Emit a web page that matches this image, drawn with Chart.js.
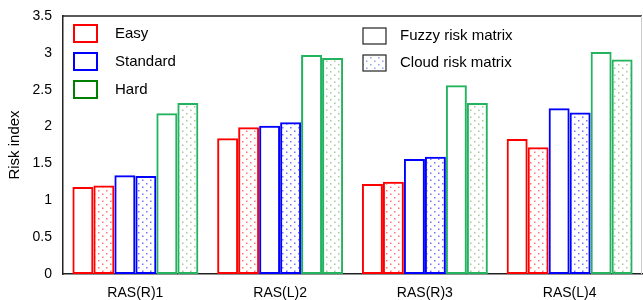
<!DOCTYPE html>
<html>
<head>
<meta charset="utf-8">
<script src="https://cdn.jsdelivr.net/npm/chart.js@4.4.0/dist/chart.umd.min.js"></script>
<style>
  html, body { margin: 0; padding: 0; background: #fff; }
  #wrap { width: 643px; height: 300px; }
</style>
</head>
<body>
<div id="wrap"><canvas id="chart" width="643" height="300"></canvas></div>
<script>
// Data
const categories = ['RAS(R)1', 'RAS(L)2', 'RAS(R)3', 'RAS(L)4'];
const easyFuzzy = [1.18, 1.84, 1.22, 1.83];
const easyCloud = [1.20, 1.99, 1.25, 1.72];
const standardFuzzy = [1.34, 2.01, 1.56, 2.25];
const standardCloud = [1.33, 2.06, 1.59, 2.19];
const hardFuzzy = [2.18, 2.97, 2.56, 3.01];
const hardCloud = [2.32, 2.93, 2.32, 2.91];
const yTicks = [0, 0.5, 1, 1.5, 2, 2.5, 3, 3.5];

const RED = '#ff0000';
const BLUE = '#0000ff';
const GREEN = '#22b35e';
const FONT = '"Liberation Sans", Arial, sans-serif';

// dotted fill for the cloud risk matrix bars
function dots(color) {
    const c = document.createElement('canvas');
    c.width = 8;
    c.height = 7;
    const ctx = c.getContext('2d');
    ctx.fillStyle = color;
    ctx.globalAlpha = 0.55;
    ctx.fillRect(2, 1, 1.5, 1.5);
    ctx.fillRect(6, 4.5, 1.5, 1.5);
    return ctx.createPattern(c, 'repeat');
}

function bars(label, data, color, cloud) {
    return {
        label: label,
        data: data,
        borderColor: color,
        borderWidth: 2,
        borderSkipped: false,
        backgroundColor: cloud ? dots(cloud) : 'rgba(255,255,255,0)'
    };
}

// Legends and frame
const framePlugin = {
    id: 'frame',
    afterDraw(chart) {
        const ctx = chart.ctx;
        const a = chart.chartArea;
        ctx.save();
        ctx.strokeStyle = '#222';
        ctx.lineWidth = 1.5;
        ctx.beginPath();
        ctx.moveTo(a.left, a.top);
        ctx.lineTo(a.right, a.top);
        ctx.stroke();
        ctx.strokeStyle = '#ccc';
        ctx.lineWidth = 1;
        ctx.beginPath();
        ctx.moveTo(a.right - 0.5, a.top);
        ctx.lineTo(a.right - 0.5, a.bottom);
        ctx.stroke();

        ctx.font = '15px ' + FONT;
        ctx.textBaseline = 'middle';
        ctx.fillStyle = '#000';

        const left = [['Easy', RED], ['Standard', BLUE], ['Hard', '#008000']];
        left.forEach((item, i) => {
            const y = 25 + i * 28;
            ctx.fillStyle = '#fff';
            ctx.fillRect(74, y, 23, 17);
            ctx.strokeStyle = item[1];
            ctx.lineWidth = 2;
            ctx.strokeRect(74, y, 23, 17);
            ctx.fillStyle = '#000';
            ctx.fillText(item[0], 115, y + 9);
        });

        const right = [['Fuzzy risk matrix', null], ['Cloud risk matrix', '#3060d0']];
        right.forEach((item, i) => {
            const y = 28 + i * 27;
            ctx.fillStyle = item[1] ? dots(item[1]) : '#fff';
            ctx.fillRect(363, y, 23, 16);
            ctx.strokeStyle = '#222';
            ctx.lineWidth = 1.2;
            ctx.strokeRect(363, y, 23, 16);
            ctx.fillStyle = '#000';
            ctx.fillText(item[0], 400, y + 8);
        });
        ctx.restore();
    }
};

new Chart(document.getElementById('chart'), {
    type: 'bar',
    data: {
        labels: categories,
        datasets: [
            bars('Easy fuzzy', easyFuzzy, RED, null),
            bars('Easy cloud', easyCloud, RED, RED),
            bars('Standard fuzzy', standardFuzzy, BLUE, null),
            bars('Standard cloud', standardCloud, BLUE, BLUE),
            bars('Hard fuzzy', hardFuzzy, GREEN, null),
            bars('Hard cloud', hardCloud, GREEN, '#5a9a40')
        ]
    },
    options: {
        responsive: false,
        animation: false,
        layout: { padding: { top: 16, right: 1, left: 0, bottom: 0 } },
        datasets: {
            bar: { categoryPercentage: 0.87, barPercentage: 1.0 }
        },
        plugins: {
            legend: { display: false },
            tooltip: { enabled: false }
        },
        scales: {
            x: {
                grid: { display: false, drawTicks: false },
                border: { color: '#222', width: 1.5 },
                ticks: {
                    color: '#000',
                    padding: 11,
                    font: { family: FONT, size: 14 }
                },
                afterFit(scale) {
                    scale.height = 26;
                    scale.paddingLeft = 0;
                    scale.paddingRight = 0;
                }
            },
            y: {
                min: 0,
                max: 3.5,
                afterBuildTicks(scale) {
                    scale.ticks = yTicks.map(v => ({ value: v }));
                },
                grid: { display: false, drawTicks: false },
                border: { color: '#222', width: 1.5 },
                ticks: {
                    color: '#000',
                    padding: 11,
                    font: { family: FONT, size: 14 },
                    callback: v => String(v)
                },
                title: {
                    display: true,
                    text: 'Risk index',
                    color: '#000',
                    padding: { top: 6, bottom: 0 },
                    font: { family: FONT, size: 15 }
                },
                afterFit(scale) {
                    scale.width = 63;
                    scale.paddingTop = 0;
                    scale.paddingBottom = 0;
                }
            }
        }
    },
    plugins: [framePlugin]
});
</script>
</body>
</html>
